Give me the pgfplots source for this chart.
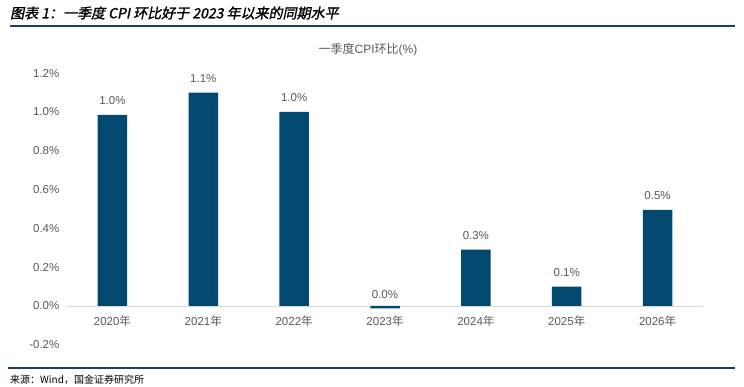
\documentclass[border=0pt]{standalone}
\usepackage{fontspec}
\setmainfont{Liberation Sans}
\newfontfamily\cjk{Noto Sans CJK SC}
\newfontfamily\cjkt[FakeSlant=0.2,FakeBold=1.5]{Noto Sans CJK SC}
\usepackage{pgfplots}
\pgfplotsset{compat=1.18}
\usepackage{pgfplotstable}
\definecolor{barblue}{HTML}{02496F}
\definecolor{ticktext}{HTML}{595959}
\definecolor{axisgray}{HTML}{D9D9D9}
\definecolor{rulenavy}{HTML}{1B3F5E}

\pgfplotstableread{
x y lab
0 0.985 1.0
1 1.100 1.1
2 1.000 1.0
3 -0.012 0.0
4 0.290 0.3
5 0.100 0.1
6 0.495 0.5
}\cpidata

\begin{document}
\begin{tikzpicture}[x=1pt,y=1pt]
\useasboundingbox (0,0) rectangle (744,387);
\node[anchor=west, inner sep=0pt] at (10,374) {\fontsize{14}{16}\selectfont\cjkt 图表 1：一季度 CPI 环比好于 2023 年以来的同期水平};
\draw[rulenavy, line width=1.3pt] (10,361) -- (735,361);
\draw[rulenavy, line width=1.3pt] (8,19) -- (735,19);
\node[anchor=west, inner sep=0pt] at (10,7) {\fontsize{10}{12}\selectfont\cjk 来源：Wind，国金证券研究所};
\node[text=ticktext, inner sep=0pt] at (368,337) {\fontsize{12}{14}\selectfont{\cjk 一季度}CPI{\cjk 环比}(\%)};
\begin{axis}[
  at={(67pt,42.2pt)}, anchor=south west, scale only axis,
  width=636pt, height=271.6pt,
  xmin=-0.5, xmax=6.5, ymin=-0.2, ymax=1.2,
  axis x line=middle, axis y line=left,
  y axis line style={draw=none},
  x axis line style={draw=axisgray, line width=0.9pt, -},
  hide obscured x ticks=false,
  /pgf/number format/assume math mode=true,
  ytick={-0.2,0,0.2,0.4,0.6,0.8,1.0,1.2},
  yticklabel={\pgfmathprintnumber[fixed,fixed zerofill,precision=1]{\tick}\%},
  ytick style={draw=none},
  yticklabel style={xshift=-2pt},
  xtick={0,1,2,3,4,5,6},
  xticklabels={{2020{\cjk 年}},{2021{\cjk 年}},{2022{\cjk 年}},{2023{\cjk 年}},{2024{\cjk 年}},{2025{\cjk 年}},{2026{\cjk 年}}},
  xtick style={draw=none},
  xticklabel style={yshift=-4pt},
  extra x ticks={-0.5,0.5,1.5,2.5,3.5,4.5,5.5,6.5},
  extra x tick labels={},
  extra x tick style={tick style={draw=axisgray, line width=0.9pt}, major tick length=5pt, tick align=outside},
  ticklabel style={font=\fontsize{11.5}{13}\selectfont, text=ticktext},
  clip=false,
]
\addplot[ybar, bar width=29.5pt, fill=barblue, draw=none,
  point meta=explicit symbolic,
  nodes near coords={\pgfplotspointmeta\%},
  nodes near coords align={anchor=base},
  every node near coord/.append style={font=\fontsize{11.5}{13}\selectfont, text=ticktext, anchor=base, yshift=10pt},
] table[x=x, y=y, meta=lab] {\cpidata};
\end{axis}
\end{tikzpicture}
\end{document}
